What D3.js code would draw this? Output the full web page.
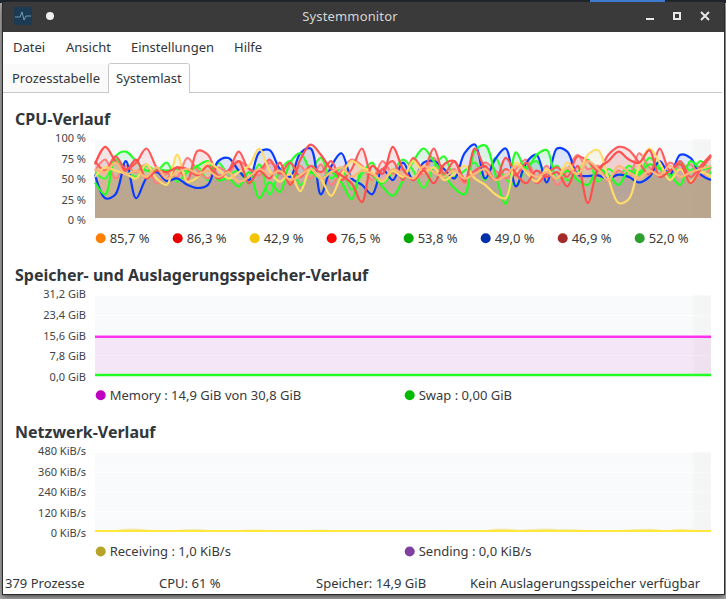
<!DOCTYPE html>
<html>

<head>
    <meta charset="utf-8">
    <style>
        html, body {
            margin: 0;
            padding: 0;
            background: #8c8c8c;
        }

        svg {
            display: block;
            font-family: 'Noto Sans', sans-serif;
        }

        .head { font-size: 16px; font-weight: bold; fill: #31363b; }
        .tick-label { font-size: 11px; fill: #444; text-anchor: end; }
        .legend { font-size: 13px; fill: #3a3a3a; }
        .menu { font-size: 13px; fill: #31363b; }
        .status { font-size: 13px; fill: #31363b; }
    </style>
</head>

<body>
    <svg width="726" height="599"></svg>

    <script src="https://d3js.org/d3.v7.min.js"></script>
    <script>
        // values, one sample about every 10px
        const cpu1 = [62,58,70,55,60,52,64,50,58,62,56,60,52,58,46,52,62,55,60,48,54,62,50,58,64,52,60,56,48,62,55,50,66,58,52,60,50,56,62,48,54,66,60,52,58,50,64,55,72,62,48,66,58,50,60,54,66,52,58,62,66];
        const cpu2 = [68,90,72,60,74,50,60,58,64,62,54,66,50,60,72,44,60,50,70,42,74,93,80,62,54,44,20,66,56,90,62,48,60,44,68,72,46,88,62,48,76,56,44,60,52,58,40,66,19,62,72,84,74,70,86,52,60,68,44,62,78];
        const cpu3 = [52,64,60,56,50,68,50,42,80,46,52,70,62,50,58,66,88,60,46,56,34,62,50,28,54,72,64,58,46,60,52,72,58,64,48,56,66,50,42,30,25,70,58,46,62,50,70,56,80,86,50,19,24,66,88,70,48,62,46,58,52];
        const cpu4 = [72,60,78,62,70,88,64,50,64,48,85,80,54,60,84,62,60,74,56,70,52,66,58,72,48,62,88,54,62,72,48,76,62,88,56,72,50,60,66,48,62,54,70,44,56,64,52,78,72,60,80,90,86,70,55,88,60,72,52,66,80];
        const cpu5 = [45,30,78,84,72,60,62,60,62,60,66,72,48,50,40,58,25,45,33,70,82,60,50,58,45,24,60,55,40,28,48,72,88,72,55,38,30,85,92,55,18,83,62,80,86,50,60,48,42,62,55,42,60,55,68,62,55,42,72,62,65];
        const cpu6 = [55,25,30,72,25,50,58,47,50,42,38,42,72,76,60,48,83,86,62,52,82,88,30,65,82,50,42,30,62,48,70,48,70,72,62,50,82,93,50,75,88,40,70,80,45,88,84,55,53,54,50,55,52,45,52,72,55,80,76,55,48];
        const cpu7 = [60,74,50,66,58,68,44,56,52,76,60,50,64,58,72,62,54,70,60,46,66,50,68,42,60,74,66,48,72,56,62,50,58,76,52,62,44,56,70,60,50,62,74,52,66,42,60,80,62,66,46,60,52,82,64,56,70,62,68,52,64];
        const cpu8 = [58,50,74,62,52,66,60,70,46,58,64,48,70,56,60,44,68,30,60,72,42,58,76,50,64,36,56,70,44,58,74,60,38,64,78,52,60,70,48,76,50,42,64,72,56,66,48,58,74,46,62,54,66,58,76,64,50,70,60,72,56];

        const cpuSeries = [cpu8, cpu7, cpu6, cpu5, cpu4, cpu3, cpu2, cpu1];
        const cpuLineColors = ["#33ff33", "#ff7f7f", "#0a3cff", "#22ff22", "#ff5a5a", "#ffdc6a", "#ff5050", "#ffb877"];
        const cpuFillColors = ["#24b436", "#b43636", "#0036e6", "#00b436", "#cf3636", "#d8c648", "#c63636", "#e69048"];
        const cpuTicks = [0, 25, 50, 75, 100];
        const cpuTickLabels = ["0 %", "25 %", "50 %", "75 %", "100 %"];
        const cpuLegend = ["85,7 %", "86,3 %", "42,9 %", "76,5 %", "53,8 %", "49,0 %", "46,9 %", "52,0 %"];
        const cpuLegendColors = ["#ff8000", "#e60000", "#f5c400", "#ff0000", "#00aa00", "#0030aa", "#a52a2a", "#2ca02c"];

        const memory = [14.9, 14.9, 14.9, 14.9, 14.9, 14.9, 14.9, 14.9, 14.9, 14.9, 14.9];
        const swap = [0, 0, 0, 0, 0, 0, 0, 0, 0, 0, 0];
        const memTicks = [0, 7.8, 15.6, 23.4, 31.2];
        const memTickLabels = ["0,0 GiB", "7,8 GiB", "15,6 GiB", "23,4 GiB", "31,2 GiB"];

        const receiving = [0,1,2,9,11,4,1,0,2,7,8,3,1,0,1,4,5,2,0,0,1,3,4,1,0,0,0,1,1,0,0,0,0,2,3,1,0,0,1,9,10,4,6,9,10,8,7,5,2,0,0,1,4,8,9,3,2,7,4,1,0];
        const sending = [0,0,0,1,1,0,0,0,0,0,0,0,0,0,0,0,0,0,0,0,0,0,0,0,0,0,0,0,0,0,0,0,0,0,0,0,0,0,0,1,1,0,0,0,1,0,0,0,0,0,0,0,0,1,1,0,0,1,0,0,0];
        const netTicks = [0, 120, 240, 360, 480];
        const netTickLabels = ["0 KiB/s", "120 KiB/s", "240 KiB/s", "360 KiB/s", "480 KiB/s"];

        const menuItems = ["Datei", "Ansicht", "Einstellungen", "Hilfe"];
        const menuX = [13, 66, 131, 234];

        let svg = d3.select("svg");
        let defs = svg.append("defs");

        let blur = defs.append("filter").attr("id", "shadow")
            .attr("x", "-5%").attr("y", "-5%").attr("width", "110%").attr("height", "110%");
        blur.append("feGaussianBlur").attr("stdDeviation", 3);

        // right hand band of the plots, it fades in
        let band = defs.append("linearGradient").attr("id", "band");
        band.append("stop").attr("offset", "0").attr("stop-color", "#e4e6da").attr("stop-opacity", 0);
        band.append("stop").attr("offset", "0.2").attr("stop-color", "#e4e6da").attr("stop-opacity", 0.22);
        band.append("stop").attr("offset", "1").attr("stop-color", "#e4e6da").attr("stop-opacity", 0.22);

        // desktop behind the window
        svg.append("rect").attr("width", 726).attr("height", 599).attr("fill", "#a9a9a9");
        svg.append("rect").attr("width", 726).attr("height", 3).attr("fill", "#20242c");
        svg.append("rect").attr("x", 590).attr("width", 75).attr("height", 2).attr("fill", "#3d7fd6");
        svg.append("rect").attr("x", 3).attr("y", 6).attr("width", 721).attr("height", 590)
            .attr("fill", "#333").attr("filter", "url(#shadow)");

        // window
        svg.append("rect").attr("x", 2).attr("y", 2).attr("width", 723).attr("height", 593).attr("fill", "#2b2b2b");
        svg.append("rect").attr("x", 3).attr("y", 32).attr("width", 721).attr("height", 562).attr("fill", "#fff");
        svg.append("rect").attr("x", 3).attr("y", 2).attr("width", 721).attr("height", 30).attr("fill", "#3a3a3a");

        // title bar
        svg.append("rect").attr("x", 14).attr("y", 7).attr("width", 18).attr("height", 18).attr("fill", "#1c3b52");
        svg.append("path").attr("d", "M15 17H20L22 12L24 20L26 16H31").attr("fill", "none")
            .attr("stroke", "#7fb6d0").attr("stroke-width", 0.8);
        svg.append("circle").attr("cx", 50).attr("cy", 16).attr("r", 4).attr("fill", "#eee");
        svg.append("text").attr("x", 350).attr("y", 21).attr("text-anchor", "middle")
            .attr("font-size", 13).attr("fill", "#d5d5d5").attr("letter-spacing", 0.15).text("Systemmonitor");
        svg.append("rect").attr("x", 646).attr("y", 18).attr("width", 8).attr("height", 2).attr("fill", "#e6e6e6");
        svg.append("rect").attr("x", 674).attr("y", 13).attr("width", 6).attr("height", 6)
            .attr("fill", "none").attr("stroke", "#e6e6e6").attr("stroke-width", 2);
        svg.append("path").attr("d", "M701 12L709 20M709 12L701 20").attr("stroke", "#e6e6e6").attr("stroke-width", 2);

        // menu
        svg.selectAll(".menu").data(menuItems).join("text")
            .attr("class", "menu")
            .attr("x", (d, i) => menuX[i])
            .attr("y", 52)
            .text(d => d);

        // tabs
        svg.append("rect").attr("x", 3).attr("y", 64).attr("width", 105).attr("height", 28).attr("fill", "#fafafa");
        svg.append("line").attr("x1", 3).attr("x2", 722).attr("y1", 92.5).attr("y2", 92.5).attr("stroke", "#c8c8c8");
        svg.append("path").attr("d", "M108.5 93V65.5Q108.5 63.5 110.5 63.5H187.5Q189.5 63.5 189.5 65.5V93")
            .attr("fill", "#fff").attr("stroke", "#c8c8c8");
        svg.append("text").attr("class", "menu").attr("x", 12).attr("y", 83).text("Prozesstabelle");
        svg.append("text").attr("class", "menu").attr("x", 116).attr("y", 83).text("Systemlast");

        // one plot panel: background, grid and tick labels
        function panel(top, bottom, ticks, labels) {
            let y = d3.scaleLinear().domain([ticks[0], ticks[4]]).range([bottom, top]);
            let labelY = d3.scaleLinear().domain([ticks[0], ticks[4]]).range([bottom + 6, top + 3]);

            svg.append("rect").attr("x", 95).attr("y", top).attr("width", 616).attr("height", bottom - top)
                .attr("fill", "#f9fafc");

            let axis = d3.axisLeft(y).tickValues(ticks).tickSize(-616).tickFormat("");
            let g = svg.append("g").attr("transform", "translate(95,0)").call(axis);
            g.select(".domain").remove();
            g.selectAll("line").attr("stroke", "#ffffff").attr("stroke-width", 1);

            svg.append("g").selectAll("text").data(ticks).join("text")
                .attr("class", "tick-label")
                .attr("x", 86)
                .attr("y", d => labelY(d))
                .text((d, i) => labels[i]);

            return y;
        }

        function bandOver(top, bottom) {
            svg.append("rect").attr("x", 691).attr("y", top).attr("width", 20).attr("height", bottom - top)
                .attr("fill", "url(#band)");
        }

        // fills go down first so that no later fill dulls a line
        function drawFills(all, y, colors, alpha, curve) {
            all.forEach((values, i) => {
                let xs = d3.scaleLinear().domain([0, values.length - 1]).range([95, 711]);
                let area = d3.area().x((d, j) => xs(j)).y0(y(0)).y1(d => y(d)).curve(curve);
                svg.append("path").attr("d", area(values)).attr("fill", colors[i]).attr("fill-opacity", alpha);
            });
        }

        function drawLines(all, y, colors, width, curve) {
            all.forEach((values, i) => {
                let xs = d3.scaleLinear().domain([0, values.length - 1]).range([95, 711]);
                let line = d3.line().x((d, j) => xs(j)).y(d => y(d)).curve(curve);
                svg.append("path").attr("d", line(values)).attr("fill", "none")
                    .attr("stroke", colors[i]).attr("stroke-width", width).attr("stroke-linejoin", "round");
            });
        }

        function legendItem(cx, cy, color, label) {
            svg.append("circle").attr("cx", cx).attr("cy", cy).attr("r", 5).attr("fill", color);
            svg.append("text").attr("class", "legend").attr("x", cx + 9).attr("y", cy + 4.5).text(label);
        }

        function heading(y, label) {
            svg.append("text").attr("class", "head").attr("x", 15).attr("y", y).text(label);
        }

        // CPU
        heading(125, "CPU-Verlauf");
        let yCpu = panel(139, 218, cpuTicks, cpuTickLabels);
        bandOver(139, 218);
        drawFills(cpuSeries, yCpu, cpuFillColors, 0.11, d3.curveCatmullRom);
        drawLines(cpuSeries, yCpu, cpuLineColors, 2.2, d3.curveCatmullRom);
        cpuLegend.forEach((d, i) => legendItem(100.7 + 77 * i, 238.3, cpuLegendColors[i], d));

        // memory
        heading(281, "Speicher- und Auslagerungsspeicher-Verlauf");
        let yMem = panel(295, 375, memTicks, memTickLabels);
        bandOver(295, 375);
        drawFills([swap, memory], yMem, ["#00aa00", "#c000c0"], 0.08, d3.curveLinear);
        drawLines([swap, memory], yMem, ["#22ff22", "#ff33ee"], 2.4, d3.curveLinear);
        legendItem(100.7, 395.3, "#c000c0", "Memory : 14,9 GiB von 30,8 GiB");
        legendItem(409.7, 395.3, "#00bb00", "Swap : 0,00 GiB");

        // network
        heading(438, "Netzwerk-Verlauf");
        let yNet = panel(452, 531, netTicks, netTickLabels);
        bandOver(452, 531);
        drawFills([sending, receiving], yNet, ["#8040a0", "#b5a428"], 0.2, d3.curveCatmullRom);
        drawLines([receiving], yNet, ["#f3e9c0"], 1.5, d3.curveCatmullRom);
        drawLines([sending], yNet, ["#ffe83a"], 2.2, d3.curveCatmullRom);
        legendItem(100.7, 551.5, "#b5a428", "Receiving : 1,0 KiB/s");
        legendItem(409.7, 551.5, "#8040a0", "Sending : 0,0 KiB/s");

        // status bar
        const statusItems = ["379 Prozesse", "CPU: 61 %", "Speicher: 14,9 GiB", "Kein Auslagerungsspeicher verfügbar"];
        const statusX = [5, 159, 316, 470];
        svg.selectAll(".status").data(statusItems).join("text")
            .attr("class", "status")
            .attr("x", (d, i) => statusX[i])
            .attr("y", 588)
            .text(d => d);
    </script>
</body>

</html>
